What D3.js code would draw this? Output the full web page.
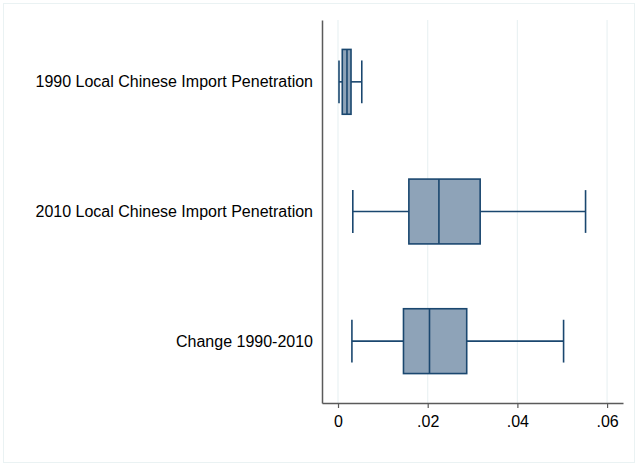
<!DOCTYPE html>
<html><head><meta charset="utf-8">
<script src="https://cdn.jsdelivr.net/npm/d3@7"></script>
<style>body{margin:0;background:#fff}svg{display:block}text{font-family:"Liberation Sans",Arial,sans-serif}</style>
</head><body>
<script>
const categories = ["1990 Local Chinese Import Penetration","2010 Local Chinese Import Penetration","Change 1990-2010"];
const whiskerLow = [0.00022, 0.0033, 0.0031];
const q1 = [0.00095, 0.0158, 0.0146];
const median = [0.0020, 0.0225, 0.0204];
const q3 = [0.0029, 0.0317, 0.0287];
const whiskerHigh = [0.0053, 0.0552, 0.0503];
const tickValues = [0, 0.02, 0.04, 0.06];
const tickLabels = ["0", ".02", ".04", ".06"];

(function () {
const W = 638, H = 466;
const svg = d3.select("body").append("svg").attr("width", W).attr("height", H);
svg.append("rect").attr("x", 3.5).attr("y", 3.5).attr("width", W - 7).attr("height", H - 7)
  .attr("fill", "#fff").attr("stroke", "#eaf2f3").attr("stroke-width", 1);

const pLeft = 322, pRight = 623, pTop = 20, pBottom = 403;
const x = d3.scaleLinear().domain([-0.00357, 0.06355]).range([pLeft, pRight]);
const y = d3.scalePoint().domain(categories).range([pTop, pBottom]).padding(0.477);
const boxH = y.step() * 0.5;

const data = categories.map((c, i) => ({c, lo: whiskerLow[i], q1: q1[i], med: median[i], q3: q3[i], hi: whiskerHigh[i]}));

svg.append("g").selectAll("line").data(tickValues).join("line")
  .attr("x1", d => x(d)).attr("x2", d => x(d)).attr("y1", pTop).attr("y2", pBottom)
  .attr("stroke", "#eaf2f3").attr("stroke-width", 1.2);

const navy = "#1a476f", fill = "#8ea3b8", sw = 1.6;
const g = svg.append("g").selectAll("g").data(data).join("g");
g.append("line").attr("x1", d => x(d.lo)).attr("x2", d => x(d.q1)).attr("y1", d => y(d.c)).attr("y2", d => y(d.c))
  .attr("stroke", navy).attr("stroke-width", sw);
g.append("line").attr("x1", d => x(d.q3)).attr("x2", d => x(d.hi)).attr("y1", d => y(d.c)).attr("y2", d => y(d.c))
  .attr("stroke", navy).attr("stroke-width", sw);
const capH = boxH * 0.66;
g.append("line").attr("x1", d => x(d.lo)).attr("x2", d => x(d.lo)).attr("y1", d => y(d.c) - capH / 2).attr("y2", d => y(d.c) + capH / 2)
  .attr("stroke", navy).attr("stroke-width", sw);
g.append("line").attr("x1", d => x(d.hi)).attr("x2", d => x(d.hi)).attr("y1", d => y(d.c) - capH / 2).attr("y2", d => y(d.c) + capH / 2)
  .attr("stroke", navy).attr("stroke-width", sw);
g.append("rect").attr("x", d => x(d.q1)).attr("width", d => x(d.q3) - x(d.q1))
  .attr("y", d => y(d.c) - boxH / 2).attr("height", boxH)
  .attr("fill", fill).attr("stroke", navy).attr("stroke-width", sw);
g.append("line").attr("x1", d => x(d.med)).attr("x2", d => x(d.med)).attr("y1", d => y(d.c) - boxH / 2).attr("y2", d => y(d.c) + boxH / 2)
  .attr("stroke", navy).attr("stroke-width", sw);

const font = '"Liberation Sans",Arial,sans-serif';
const xAxis = d3.axisBottom(x).tickValues(tickValues).tickFormat((d, i) => tickLabels[i]).tickSize(5).tickPadding(8).tickSizeOuter(0);
const xa = svg.append("g").attr("transform", `translate(0,${pBottom})`).call(xAxis);
xa.select(".domain").attr("stroke", "#5a5a5a").attr("stroke-width", 1.5);
xa.selectAll(".tick line").attr("stroke", "#5a5a5a").attr("stroke-width", 1.2);
xa.selectAll("text").attr("font-size", 16).attr("fill", "#000").style("font-family", font);

const yAxis = d3.axisLeft(y).tickSize(0).tickPadding(9).tickSizeOuter(0);
const ya = svg.append("g").attr("transform", `translate(${pLeft},0)`).call(yAxis);
ya.select(".domain").attr("stroke", "#5a5a5a").attr("stroke-width", 1.5);
ya.selectAll("text").attr("font-size", 16).attr("fill", "#000").style("font-family", font);
})();
</script>
</body></html>
